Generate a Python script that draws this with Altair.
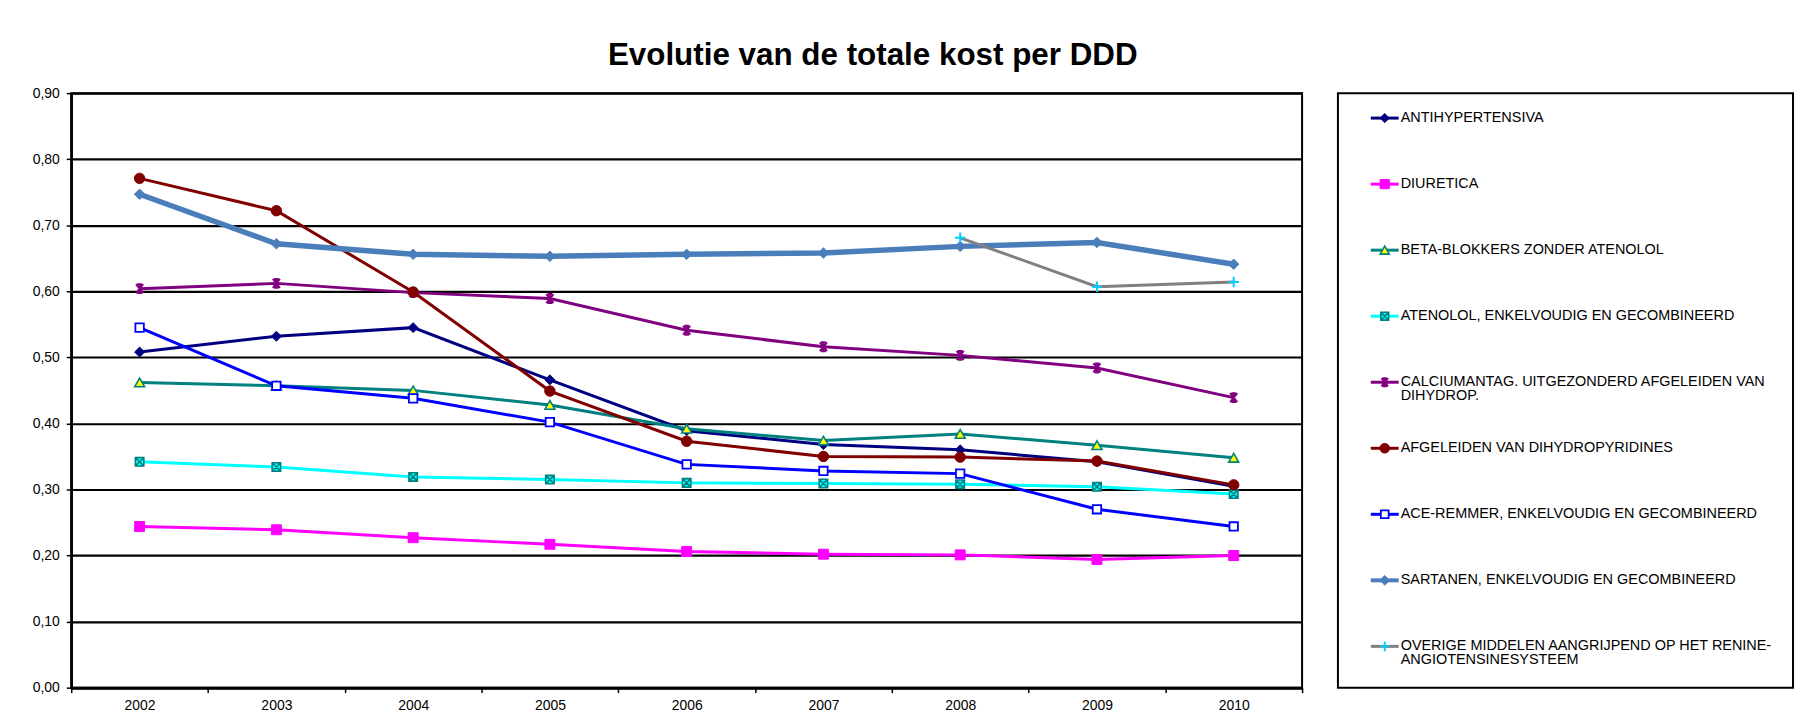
import altair as alt
import pandas as pd

FONT = "Liberation Sans, Arial, Helvetica, sans-serif"

title_text = "Evolutie van de totale kost per DDD"
years = [2002, 2003, 2004, 2005, 2006, 2007, 2008, 2009, 2010]
y_ticks = [0.0, 0.1, 0.2, 0.3, 0.4, 0.5, 0.6, 0.7, 0.8, 0.9]

series_names = [
    "ANTIHYPERTENSIVA",
    "DIURETICA",
    "BETA-BLOKKERS ZONDER ATENOLOL",
    "ATENOLOL,  ENKELVOUDIG EN GECOMBINEERD",
    "CALCIUMANTAG. UITGEZONDERD AFGELEIDEN VAN DIHYDROP.",
    "AFGELEIDEN VAN DIHYDROPYRIDINES",
    "ACE-REMMER, ENKELVOUDIG EN GECOMBINEERD",
    "SARTANEN, ENKELVOUDIG EN GECOMBINEERD",
    "OVERIGE MIDDELEN AANGRIJPEND OP HET RENINE-ANGIOTENSINESYSTEEM",
]
legend_line1 = [
    "ANTIHYPERTENSIVA",
    "DIURETICA",
    "BETA-BLOKKERS ZONDER ATENOLOL",
    "ATENOLOL,  ENKELVOUDIG EN GECOMBINEERD",
    "CALCIUMANTAG. UITGEZONDERD AFGELEIDEN VAN",
    "AFGELEIDEN VAN DIHYDROPYRIDINES",
    "ACE-REMMER, ENKELVOUDIG EN GECOMBINEERD",
    "SARTANEN, ENKELVOUDIG EN GECOMBINEERD",
    "OVERIGE MIDDELEN AANGRIJPEND OP HET RENINE-",
]
legend_line2 = ["", "", "", "", "DIHYDROP.", "", "", "", "ANGIOTENSINESYSTEEM"]

antihypertensiva = [0.508, 0.532, 0.545, 0.466, 0.389, 0.368, 0.360, 0.342, 0.305]
diuretica = [0.244, 0.239, 0.227, 0.217, 0.206, 0.202, 0.201, 0.194, 0.200]
beta_blokkers = [0.462, 0.457, 0.450, 0.428, 0.392, 0.374, 0.384, 0.367, 0.348]
atenolol = [0.342, 0.334, 0.319, 0.315, 0.310, 0.309, 0.308, 0.304, 0.293]
calciumantag = [0.604, 0.612, 0.598, 0.589, 0.541, 0.516, 0.503, 0.484, 0.439]
afgeleiden = [0.771, 0.722, 0.599, 0.449, 0.373, 0.350, 0.349, 0.343, 0.307]
ace_remmer = [0.545, 0.457, 0.438, 0.402, 0.338, 0.328, 0.324, 0.270, 0.244]
sartanen = [0.747, 0.672, 0.656, 0.653, 0.656, 0.658, 0.668, 0.674, 0.641]
overige = [None, None, None, None, None, None, 0.681, 0.607, 0.614]

series_values = [antihypertensiva, diuretica, beta_blokkers, atenolol, calciumantag,
                 afgeleiden, ace_remmer, sartanen, overige]

# styles
line_colors = ["#000080", "#FF00FF", "#008080", "#00FFFF", "#800080",
               "#800000", "#0000FF", "#4A7EBB", "#808080"]
line_widths = [3, 3, 3, 3, 3, 3, 3, 5.5, 3]
marker_stroke = ["#000080", "#FF00FF", "#008080", "#008080", "#800080",
                 "#800000", "#0000FF", "#4A7EBB", "#00CCFF"]
marker_fill = ["#000080", "#FF00FF", "#FFFF00", "#00FFFF", "transparent",
               "#800000", "#FFFFFF", "#4A7EBB", "transparent"]
marker_sw = [1, 1, 1.6, 1.6, 2, 1, 1.8, 1, 2]
PATH_BOX_X = "M-1,-1L1,-1L1,1L-1,1Z M-1,-1L1,1 M1,-1L-1,1"
PATH_STAR = "M-0.8,-1L0.8,1 M-0.8,1L0.8,-1 M0,-1L0,1 M-0.5,-1L0.5,-1 M-0.5,1L0.5,1"
PATH_PLUS = "M-1,0L1,0 M0,-1L0,1"
marker_shapes = ["diamond", "square", "triangle-up", PATH_BOX_X, PATH_STAR,
                 "circle", "square", "diamond", PATH_PLUS]
marker_sizes = [100, 100, 100, 72, 80, 110, 72, 110, 110]

rows = []
for name, vals in zip(series_names, series_values):
    for yr, v in zip(years, vals):
        if v is not None:
            rows.append({"series": name, "year": yr, "value": v})
df = pd.DataFrame(rows)

legend_df = pd.DataFrame({
    "series": series_names,
    "idx": list(range(len(series_names))),
    "line1": legend_line1,
    "line2": legend_line2,
})

x_enc = alt.X(
    "year:O",
    scale=alt.Scale(type="band", paddingInner=0, paddingOuter=0),
    bandPosition=0.5,
    axis=alt.Axis(
        title=None, tickBand="extent", labelAngle=0, grid=False,
        domainColor="black", domainWidth=3, tickColor="black", tickSize=5,
        tickWidth=1.5, labelFont=FONT, labelFontSize=14, labelColor="black",
        labelPadding=6,
    ),
)
y_enc = alt.Y(
    "value:Q",
    scale=alt.Scale(domain=[0, 0.9], nice=False, zero=True),
    axis=alt.Axis(
        title=None, values=y_ticks,
        labelExpr="replace(format(datum.value, '.2f'), '.', ',')",
        grid=True, gridColor="black", gridWidth=2.2,
        domainColor="black", domainWidth=2.5, tickColor="black", tickSize=5,
        tickWidth=1.5, labelFont=FONT, labelFontSize=14, labelColor="black",
        labelPadding=7,
    ),
)

layers = []
for i, name in enumerate(series_names):
    base = alt.Chart().transform_filter(alt.datum.series == name)
    layers.append(base.mark_line(color=line_colors[i], strokeWidth=line_widths[i])
                  .encode(x=x_enc, y=y_enc))
    layers.append(base.mark_point(
        shape=marker_shapes[i], size=marker_sizes[i], filled=True,
        fill=marker_fill[i], stroke=marker_stroke[i], strokeWidth=marker_sw[i],
        opacity=1,
    ).encode(x=x_enc, y=y_enc))

main = alt.layer(*layers, data=df).properties(width=1236, height=597)

ly = alt.Y("idx:Q", scale=alt.Scale(domain=[-0.378, 8.625], reverse=True), axis=None)
leg_layers = []
for i, name in enumerate(series_names):
    base = alt.Chart().transform_filter(alt.datum.series == name)
    leg_layers.append(base.mark_rule(color=line_colors[i], strokeWidth=min(line_widths[i], 4))
                      .encode(x=alt.value(33), x2=alt.value(61), y=ly))
    leg_layers.append(base.mark_point(
        shape=marker_shapes[i], size=marker_sizes[i] * 0.85, filled=True,
        fill=marker_fill[i], stroke=marker_stroke[i], strokeWidth=marker_sw[i],
        opacity=1,
    ).encode(x=alt.value(47), y=ly))
leg_layers.append(alt.Chart().mark_text(
    align="left", baseline="middle", font=FONT, fontSize=14.5, color="black"
).encode(x=alt.value(63), y=ly, text="line1:N"))
leg_layers.append(alt.Chart().mark_text(
    align="left", baseline="middle", font=FONT, fontSize=14.5, color="black", dy=13.5
).encode(x=alt.value(63), y=ly, text="line2:N"))

legend = alt.layer(*leg_layers, data=legend_df).properties(width=457, height=597)

chart = alt.hconcat(main, legend, spacing=33).properties(
    title=alt.TitleParams(
        title_text, font=FONT, fontSize=31.5, fontWeight="bold", color="black",
        anchor="middle", offset=14, dx=-40,
    ),
    padding={"left": 22.5, "top": 30, "right": 5, "bottom": 5},
    background="white",
).configure_view(stroke="black", strokeWidth=2)

chart.save("out.html", embed_options={"renderer": "svg", "actions": False})
